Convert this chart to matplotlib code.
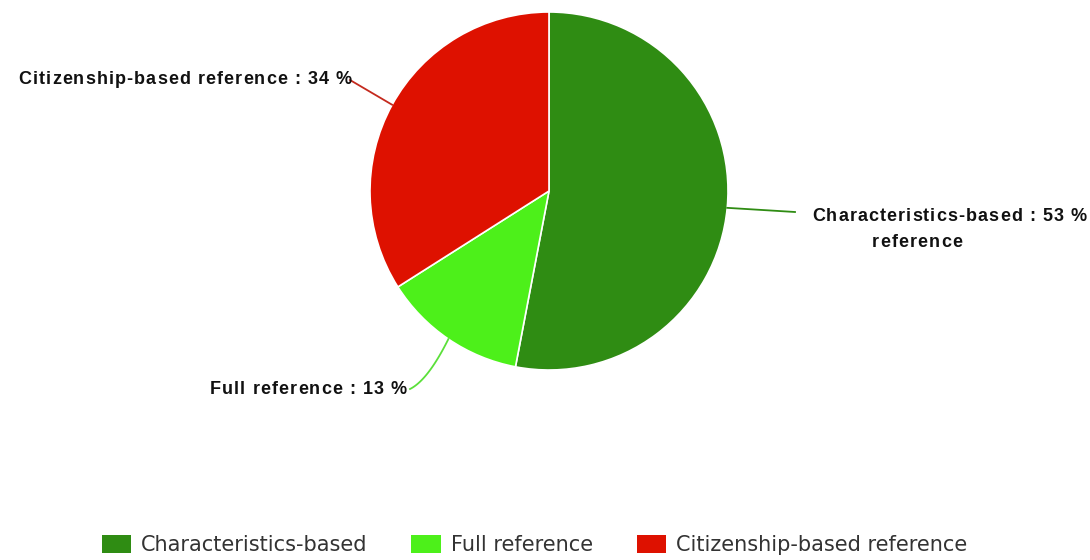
import matplotlib
matplotlib.use("Agg")
import matplotlib.pyplot as plt
import numpy as np
from matplotlib.patches import Patch
from matplotlib.font_manager import FontProperties, findfont
from matplotlib.ft2font import FT2Font

categories = ["Characteristics-based", "Full reference", "Citizenship-based reference"]
shares = [53, 13, 34]
colors = ["#2f8c13", "#4df01a", "#de1100"]

W, H = 1090, 560
DPI = 100
fig = plt.figure(figsize=(W / DPI, H / DPI), dpi=DPI)
ax = fig.add_axes([0, 0, 1, 1])

cx, cy, r = 549, H - 191, 179
wedges, _ = ax.pie(shares, colors=colors, startangle=90, counterclock=False,
                   center=(cx, cy), radius=r, frame=True,
                   wedgeprops=dict(edgecolor="white", linewidth=1.2))
ax.set_xlim(0, W)
ax.set_ylim(0, H)
ax.set_aspect("equal")
ax.axis("off")

LABEL_PT = 13
LABEL_TRACKING = 1.1  # extra pixels between letters
label_prop = FontProperties(family="Liberation Sans", weight="bold", size=LABEL_PT)
_ft = FT2Font(findfont(label_prop))
_ft.set_size(LABEL_PT, DPI)


def advances(s):
    """Per-character pen positions (pixels) for string s, with tracking."""
    pos, x, prev = [], 0.0, None
    for ch in s:
        idx = _ft.get_char_index(ord(ch))
        if prev is not None:
            x += _ft.get_kerning(prev, idx, 0) / 64
        pos.append(x)
        g = _ft.load_char(ord(ch))
        x += g.linearHoriAdvance / 65536 + LABEL_TRACKING
        prev = idx
    return pos, x - LABEL_TRACKING


def tracked_text(x, y, s, ha="left", color="#111111"):
    pos, width = advances(s)
    x0 = {"left": x, "right": x - width, "center": x - width / 2}[ha]
    for ch, p in zip(s, pos):
        if ch != " ":
            ax.text(x0 + p, y, ch, ha="left", va="baseline", color=color,
                    fontproperties=label_prop)


def mid_point(w):
    ang = np.deg2rad((w.theta1 + w.theta2) / 2)
    return cx + r * np.cos(ang), cy + r * np.sin(ang)


# Characteristics-based (wrapped label, second line centred under first word)
px, py = mid_point(wedges[0])
ax.plot([px, 795], [py, H - 212], color=colors[0], lw=1.3)
tracked_text(812, H - 221, f"{categories[0]} : {shares[0]} %")
first_w = advances(categories[0])[1]
tracked_text(812 + first_w / 2, H - 247, "reference", ha="center")

# Full reference (curved leader, quadratic Bezier)
px, py = mid_point(wedges[1])
t = np.linspace(0, 1, 40)[:, None]
p0 = np.array([px, py])
p1 = np.array([428, H - 380])
p2 = np.array([410, H - 389])
curve = (1 - t) ** 2 * p0 + 2 * (1 - t) * t * p1 + t ** 2 * p2
ax.plot(curve[:, 0], curve[:, 1], color="#5be03a", lw=1.3)
tracked_text(407, H - 394, f"{categories[1]} : {shares[1]} %", ha="right")

# Citizenship-based reference
px, py = mid_point(wedges[2])
ax.plot([px, 350], [py, H - 80], color="#c42a1e", lw=1.3)
tracked_text(352, H - 84, f"{categories[2]} : {shares[2]} %", ha="right")

handles = [Patch(facecolor=c, edgecolor="none") for c in colors]
fig.legend(handles, categories, loc="center", bbox_to_anchor=(534.5 / W, 1 - 545 / H),
           ncol=3, frameon=False, prop=dict(family="DejaVu Sans", size=15),
           handlelength=1.4, handleheight=0.97, handletextpad=0.48, columnspacing=2.1,
           labelcolor="#333333")

fig.savefig("out.png", dpi=DPI, facecolor="white")
